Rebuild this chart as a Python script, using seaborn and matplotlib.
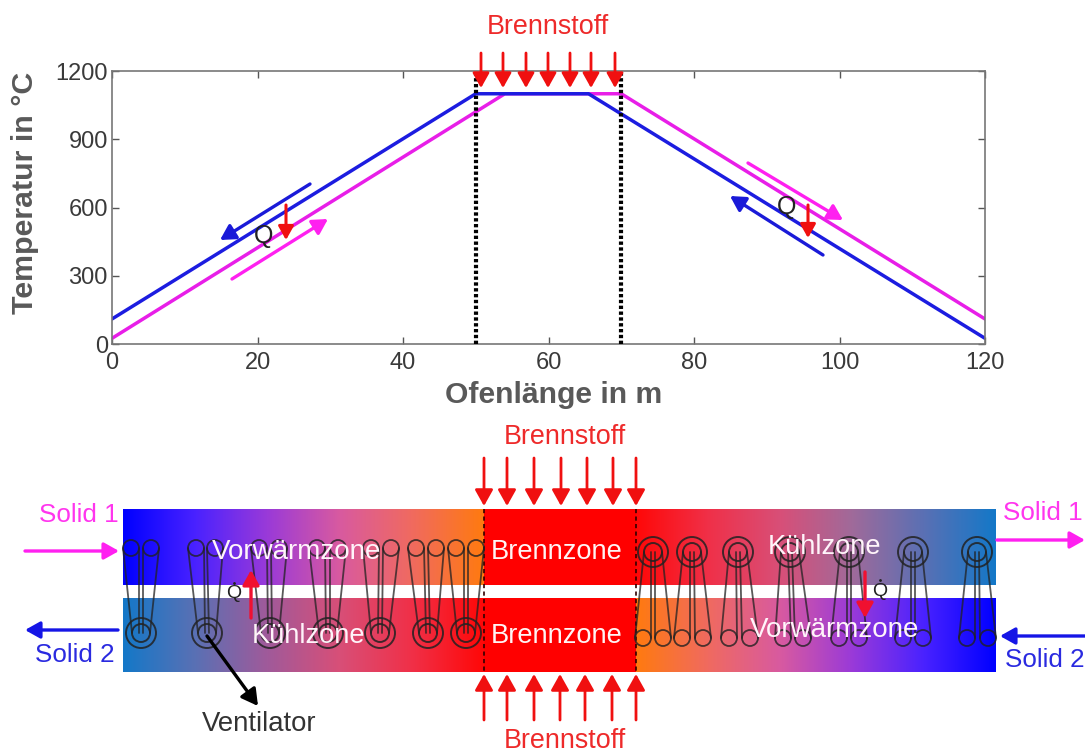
import matplotlib
matplotlib.use("Agg")
import matplotlib.pyplot as plt
from matplotlib.colors import LinearSegmentedColormap
from matplotlib.patches import Circle
import numpy as np
import seaborn as sns

# ---- chart data ----
solid2_x = [0, 50, 65.5, 120]
solid2_t = [110, 1100, 1100, 25]
solid1_x = [0, 54, 70, 120]
solid1_t = [25, 1100, 1100, 110]
zone_limits = [50, 70]
x_ticks = [0, 20, 40, 60, 80, 100, 120]
y_ticks = [0, 300, 600, 900, 1200]

# ---- diagram geometry (pixels) ----
W, H = 1085, 753
fuel_top_plot = [481, 503, 526, 548, 570, 591, 615]
fuel_upper = [484, 507, 534, 561, 587, 613, 636]
fuel_lower = [484, 507, 534, 560, 585, 612, 636]
left_small = [(131, 151), (196, 215), (259, 279), (317, 338), (371, 391), (416, 436), (456, 476)]
left_big = [141, 207, 270, 328, 380, 428, 466]
right_small = [(643, 663), (682, 703), (729, 750), (783, 803), (839, 859), (903, 923), (967, 988)]
right_big = [653, 692, 738, 790, 849, 913, 977]

MAG, BLU, RED = "#ff20f0", "#1a1ae6", "#f01010"
sns.set_theme(style="white")
plt.rcParams["font.family"] = ["Liberation Sans", "DejaVu Sans"]

fig = plt.figure(figsize=(W / 100, H / 100), dpi=100)
fig.patch.set_facecolor("white")

# ---- temperature chart ----
L, R, T, B = 112, 985, 71, 344
ax = fig.add_axes([L / W, 1 - B / H, (R - L) / W, (B - T) / H])
sns.lineplot(x=solid1_x, y=solid1_t, color="#e81ee8", lw=2.5, ax=ax, estimator=None, sort=False)
sns.lineplot(x=solid2_x, y=solid2_t, color="#1c1ce0", lw=2.5, ax=ax, estimator=None, sort=False)
for z in zone_limits:
    ax.axvline(z, color="black", lw=3, ls=(0, (0.8, 0.6)), zorder=5)
ax.set_xlim(0, 120)
ax.set_ylim(0, 1200)
ax.set_xticks(x_ticks)
ax.set_yticks(y_ticks)
ax.tick_params(axis="both", direction="in", length=5, width=1, color="#555555",
               labelsize=17, labelcolor="#3a3a3a", bottom=True, left=True, top=True, right=True, pad=3)
ax.tick_params(axis="x", pad=6)
for s in ax.spines.values():
    s.set_color("#777777")
    s.set_linewidth(1.2)

# ---- overlay in pixel coordinates ----
ov = fig.add_axes([0, 0, 1, 1], facecolor="none")
ov.set_axis_off()


def arrow(x0, y0, x1, y1, color, lw=2.0, ms=15):
    ov.annotate("", xy=(x1, y1), xytext=(x0, y0),
                arrowprops=dict(arrowstyle="-|>,head_width=0.42,head_length=0.75", color=color, lw=lw,
                                mutation_scale=ms, shrinkA=0, shrinkB=0), zorder=6)


def label(x, y, s, color, size=19.6, **kw):
    ov.text(x, y, s, color=color, fontsize=size, ha="center", va="center", zorder=7, **kw)


def gradient(colors, x0, x1, y0, y1):
    cmap = LinearSegmentedColormap.from_list("g", colors)
    ov.imshow(np.linspace(0, 1, 512)[None, :], cmap=cmap, extent=(x0, x1, y1, y0), aspect="auto",
              interpolation="bilinear", zorder=1)


gradient(["#0000ff", "#4a22ff", "#9a3ad8", "#d85aa0", "#f06a60", "#ff7a10"], 123, 484, 509, 585)
gradient(["#1478c8", "#5a70b4", "#a05a9a", "#d84f78", "#f03048", "#ff0808"], 123, 484, 598, 672)
gradient(["#ff0000"] * 2, 484, 636, 509, 585)
gradient(["#ff0000"] * 2, 484, 636, 598, 672)
gradient(["#ff0808", "#f03048", "#d84f78", "#a06a9a", "#5a70b4", "#1478c8"], 636, 996, 509, 585)
gradient(["#ff7a10", "#f06a60", "#d85aa0", "#9a3ad8", "#4a22ff", "#0000ff"], 636, 996, 598, 672)
ov.set_xlim(0, W)
ov.set_ylim(H, 0)

for x in (484, 636):
    ov.plot([x, x], [509, 672], color="#300000", lw=1.2, ls=(0, (2.5, 2)), zorder=3)

belt = dict(color="#222222", lw=1.3, alpha=0.75, zorder=4)


def wheels(smalls, bigs, sy, by):
    for (a, b), c in zip(smalls, bigs):
        for sx in (a, b):
            ov.add_patch(Circle((sx, sy), 8, fill=False, ec="#222222", lw=1.3, alpha=0.8, zorder=4))
        for s0, b0 in ((a - 8, c - 9), (a + 8, c - 2), (b - 8, c + 2), (b + 8, c + 9)):
            ov.plot([s0, b0], [sy, by], **belt)
        ov.add_patch(Circle((c, by), 15, fill=False, ec="#222222", lw=1.4, alpha=0.85, zorder=4))
        ov.add_patch(Circle((c, by), 9, fill=False, ec="#222222", lw=1.4, alpha=0.85, zorder=4))


wheels(left_small, left_big, 548, 633)
wheels(right_small, right_big, 638, 552)

# white zone labels
label(297, 552, "Vorwärmzone", "#fff4fa", 20)
label(308, 636, "Kühlzone", "#fff4fa")
label(557, 552, "Brennzone", "#fff4f4")
label(557, 636, "Brennzone", "#fff4f4")
label(824, 547, "Kühlzone", "#fff4fa")
label(835, 630, "Vorwärmzone", "#fff4fa", 20)

# fuel labels and arrows
label(548, 27, "Brennstoff", "#ee2a2a", 19.4)
label(565, 437, "Brennstoff", "#ee2a2a", 19.4)
label(565, 741, "Brennstoff", "#ee2a2a", 19.4)
for x in fuel_top_plot:
    arrow(x, 53, x, 88, RED, 2.0, 12)
for x in fuel_upper:
    arrow(x, 458, x, 506, RED, 2.0, 13)
for x in fuel_lower:
    arrow(x, 720, x, 674, RED, 2.0, 13)

# chart flow arrows
arrow(310, 184, 220, 240, "#1a1ad8", 2.4, 12)
arrow(232, 279, 328, 219, MAG, 2.4, 12)
arrow(286, 205, 286, 240, RED, 2.2, 11)
arrow(748, 163, 843, 220, MAG, 2.4, 12)
arrow(823, 255, 730, 196, "#1a1ad8", 2.4, 12)
arrow(808, 205, 808, 238, RED, 2.2, 11)
label(264, 236, "Q", "#222222", 18)
label(787, 207, "Q", "#222222", 18)

# solids
label(79, 515, "Solid 1", "#ff35ee", 18.7)
label(1043, 513, "Solid 1", "#ff35ee", 18.7)
label(75, 655, "Solid 2", "#2a2ae0", 18.7)
label(1045, 660, "Solid 2", "#2a2ae0", 18.7)
arrow(25, 551, 119, 551, MAG, 2.4, 12)
arrow(997, 540, 1085, 540, MAG, 2.4, 12)
arrow(118, 630, 25, 630, "#1515e6", 2.4, 12)
arrow(1085, 636, 1000, 636, "#1515e6", 2.4, 12)

# heat flow in furnace diagram
arrow(251, 618, 251, 570, "#f01030", 2.4, 12)
arrow(865, 572, 865, 618, "#f01030", 2.4, 12)
label(234, 594, "Q", "#222222", 14)
label(880, 591, "Q", "#222222", 14)
ov.plot([234, 880], [583, 580], ls="none", marker=".", ms=2, color="#222222", zorder=7)

# ventilator
arrow(207, 636, 258, 706, "black", 2.4, 13)
label(259, 724, "Ventilator", "#333333", 19.8)

# axis titles
label(554, 395, "Ofenlänge in m", "#595959", 21.7, fontweight="bold")
ov.text(25, 193, "Temperatur in °C", color="#595959", fontsize=21.9, fontweight="bold",
        rotation=90, ha="center", va="center", zorder=7)

fig.savefig("out.png", dpi=100)
